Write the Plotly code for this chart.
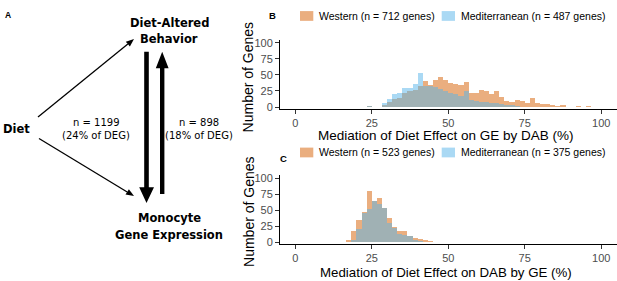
import plotly.graph_objects as go

W, H = 617, 281
BIN_WIDTH = 5 / 3

# ---- Panel B data (mediation of diet effect on GE by DAB) ----
b_bin_starts = [23.33, 25.0, 26.67, 28.33, 30.0, 31.67, 33.33, 35.0, 36.67, 38.33,
                40.0, 41.67, 43.33, 45.0, 46.67, 48.33, 50.0, 51.67, 53.33, 55.0,
                56.67, 58.33, 60.0, 61.67, 63.33, 65.0, 66.67, 68.33, 70.0, 71.67,
                73.33, 75.0, 76.67, 78.33, 80.0, 81.67, 83.33, 85.0, 86.67, 88.33,
                90.0, 91.67, 93.33, 95.0, 96.67]
b_western = [2, 0, 1, 4, 8, 13, 15, 22, 26, 27,
             33, 41, 34, 42, 47, 42, 38, 37, 35, 39,
             23, 23, 27, 26, 21, 26, 16, 9, 8, 11,
             10, 6, 14, 7, 5, 5, 3, 2, 3, 1,
             1, 2, 1, 2, 1]
b_mediterranean = [2, 0, 1, 7, 13, 21, 22, 30, 30, 37,
                   53, 33, 33, 31, 28, 25, 22, 20, 18, 26,
                   11, 9, 8, 8, 7, 7, 5, 4, 3, 2,
                   1, 1, 0, 0, 0, 0, 0, 0, 0, 0,
                   0, 0, 0, 0, 0]

# ---- Panel C data (mediation of diet effect on DAB by GE) ----
c_bin_starts = [16.67, 18.33, 20.0, 21.67, 23.33, 25.0, 26.67, 28.33, 30.0, 31.67,
                33.33, 35.0, 36.67, 38.33, 40.0, 41.67, 43.33, 45.0, 46.67, 48.33, 50.0]
c_western = [3, 18, 34, 47, 80, 65, 69, 54, 38, 24, 18, 18, 10, 6, 5, 4, 2, 1, 0, 1, 1]
c_mediterranean = [0, 3, 20, 45, 52, 65, 60, 54, 30, 23, 13, 11, 10, 3, 2, 1, 1, 0, 0, 0, 0]

x_ticks = [0, 25, 50, 75, 100]
y_ticks = [0, 25, 50, 75, 100]
b_legend = ["Western (n = 712 genes)", "Mediterranean (n = 487 genes)"]
c_legend = ["Western (n = 523 genes)", "Mediterranean (n = 375 genes)"]

COL_W = "rgba(213,94,0,0.5)"
COL_M = "rgba(86,180,233,0.5)"
SANS = "Liberation Sans, Arial, sans-serif"
DJV = "DejaVu Sans, Verdana, sans-serif"


def px(x):
    return x / W


def py(y):
    return 1 - y / H


fig = go.Figure()

for starts, west, med, xa, ya in [(b_bin_starts, b_western, b_mediterranean, "x", "y"),
                                   (c_bin_starts, c_western, c_mediterranean, "x2", "y2")]:
    centers = [s + BIN_WIDTH / 2 for s in starts]
    fig.add_trace(go.Bar(x=centers, y=west, width=BIN_WIDTH, marker=dict(color=COL_W, line=dict(width=0)),
                         xaxis=xa, yaxis=ya, showlegend=False, name="Western"))
    fig.add_trace(go.Bar(x=centers, y=med, width=BIN_WIDTH, marker=dict(color=COL_M, line=dict(width=0)),
                         xaxis=xa, yaxis=ya, showlegend=False, name="Mediterranean"))

axis_common = dict(showgrid=False, zeroline=False, showline=True, linecolor="black", linewidth=1,
                   ticks="outside", ticklen=4, tickcolor="#333333", tickwidth=1,
                   tickfont=dict(family=SANS, size=11, color="#4D4D4D"))

x_dom = [px(280), px(616.5)]
b_dom = [py(108.3), py(37.7)]
c_dom = [py(246.9), py(176.3)]

fig.update_layout(
    width=W, height=H, margin=dict(l=0, r=0, t=0, b=0),
    paper_bgcolor="white", plot_bgcolor="white", barmode="overlay", bargap=0,
    xaxis=dict(axis_common, domain=x_dom, range=[-5, 105], tickvals=x_ticks, anchor="y"),
    yaxis=dict(axis_common, domain=b_dom, range=[-2.5, 105], tickvals=y_ticks, anchor="x"),
    xaxis2=dict(axis_common, domain=x_dom, range=[-5, 105], tickvals=x_ticks, anchor="y2"),
    yaxis2=dict(axis_common, domain=c_dom, range=[-2.5, 105], tickvals=y_ticks, anchor="x2"),
)

shapes = []
annotations = []


def txt(x, y, s, size, family=DJV, color="black", xanchor="center", angle=0):
    annotations.append(dict(x=px(x), y=py(y), xref="paper", yref="paper", text=s, showarrow=False,
                            font=dict(family=family, size=size, color=color),
                            xanchor=xanchor, yanchor="middle", textangle=angle))


def poly(points):
    d = "M " + " L ".join(f"{px(a):.5f} {py(b):.5f}" for a, b in points) + " Z"
    shapes.append(dict(type="path", path=d, xref="paper", yref="paper",
                       fillcolor="black", line=dict(width=0)))


def thin_arrow(x0, y0, x1, y1, hl=8, hw=3.2):
    dx, dy = x1 - x0, y1 - y0
    L = (dx * dx + dy * dy) ** 0.5
    ux, uy = dx / L, dy / L
    bx, by = x1 - ux * hl, y1 - uy * hl
    shapes.append(dict(type="line", x0=px(x0), y0=py(y0), x1=px(bx), y1=py(by), xref="paper", yref="paper",
                       line=dict(color="black", width=1.3)))
    poly([(x1, y1), (bx - uy * hw, by + ux * hw), (bx + uy * hw, by - ux * hw)])


# Panel A diagram
txt(3, 12, "<b>A</b>", 8.5, family=SANS, xanchor="left")
txt(169, 21, "<b>Diet-Altered</b>", 11.5)
txt(169, 37, "<b>Behavior</b>", 11.5)
txt(16, 129, "<b>Diet</b>", 11.5)
txt(169, 221, "<b>Monocyte</b>", 11.5)
txt(169, 238, "<b>Gene Expression</b>", 11.5)
txt(96, 123, "n = 1199", 10)
txt(96, 136, "(24% of DEG)", 10)
txt(199, 123, "n = 898", 10)
txt(199, 136, "(18% of DEG)", 10)

thin_arrow(38, 117, 134, 37)
thin_arrow(39, 139, 134, 198)
# thick down arrow
poly([(144.2, 50), (148.8, 50), (148.8, 189), (154, 189), (146.5, 205), (139.2, 189), (144.2, 189)])
# thick up arrow
poly([(160, 196), (164.4, 196), (164.4, 67), (168.6, 67), (162.2, 50), (155.8, 67), (160, 67)])

# Panel labels, legends, axis titles
txt(272, 13, "<b>B</b>", 9.5, family=SANS)
txt(283.5, 159, "<b>C</b>", 9.5, family=SANS)

for ly, labels in [(13.3, b_legend), (153.3, c_legend)]:
    for (x0, x1, tx), col, lab in zip([(300, 313.3, 317.3), (441.7, 455, 458.7)], [COL_W, COL_M], labels):
        shapes.append(dict(type="rect", x0=px(x0), x1=px(x1), y0=py(ly + 5), y1=py(ly - 5),
                           xref="paper", yref="paper", fillcolor=col, line=dict(width=0)))
        txt(tx, ly, lab, 10.5, family=SANS, color="black", xanchor="left")

txt(248.3, 76, "Number of Genes", 14, family=SANS, angle=-90)
txt(248.3, 214, "Number of Genes", 14, family=SANS, angle=-90)
txt(446, 136, "Mediation of Diet Effect on GE by DAB (%)", 13.5, family=SANS)
txt(446, 276.3, "Mediation of Diet Effect on DAB by GE (%)", 13.3, family=SANS)

fig.update_layout(shapes=shapes, annotations=annotations)
fig.write_html("out.html", config={"displayModeBar": False},
               post_script="document.body.style.margin='0';document.body.style.overflow='hidden';")
